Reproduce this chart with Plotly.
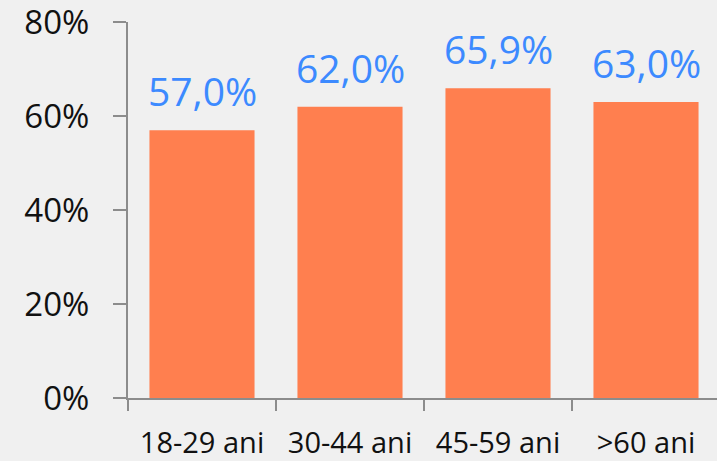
import plotly.graph_objects as go

categories = ["18-29 ani", "30-44 ani", "45-59 ani", ">60 ani"]
values = [57.0, 62.0, 65.9, 63.0]
labels = ["57,0%", "62,0%", "65,9%", "63,0%"]
y_ticks = [0, 20, 40, 60, 80]
y_tick_text = ["0%", "20%", "40%", "60%", "80%"]

fig = go.Figure()
fig.add_trace(go.Bar(
    x=categories, y=values,
    marker=dict(color="#FF7F4F", line=dict(width=0)),
    hoverinfo="skip",
))
for c, v, t in zip(categories, values, labels):
    fig.add_annotation(x=c, y=v, text=t, showarrow=False, yanchor="bottom",
                       yshift=11, font=dict(family="Open Sans", size=39, color="#3C8AFF"))

fig.update_layout(
    width=717, height=461,
    margin=dict(l=128, r=0, t=22, b=63, autoexpand=False),
    paper_bgcolor="#F0F0F0", plot_bgcolor="#F0F0F0",
    bargap=0.29, showlegend=False,
    font=dict(family="Open Sans", color="#111111"),
)
fig.update_xaxes(
    range=[-0.5, 3.5 - 3/148], tickson="boundaries",
    showline=True, linecolor="#8C8C8C", linewidth=2,
    ticks="outside", ticklen=11, tickwidth=2, tickcolor="#8C8C8C",
    ticklabelstandoff=18,
    tickfont=dict(size=29, color="#111111"), showgrid=False,
)
fig.update_yaxes(
    range=[0, 80.02], tickvals=y_ticks, ticktext=y_tick_text,
    showline=True, linecolor="#8C8C8C", linewidth=2,
    ticks="outside", ticklen=13, tickwidth=2, tickcolor="#8C8C8C",
    ticklabelstandoff=17, ticklabeloverflow="allow",
    tickfont=dict(size=33, color="#111111"), showgrid=False, zeroline=False,
)
fig.write_html("out.html", config={"displayModeBar": False},
               post_script="document.body.style.margin='0';document.body.style.background='#F0F0F0';")
